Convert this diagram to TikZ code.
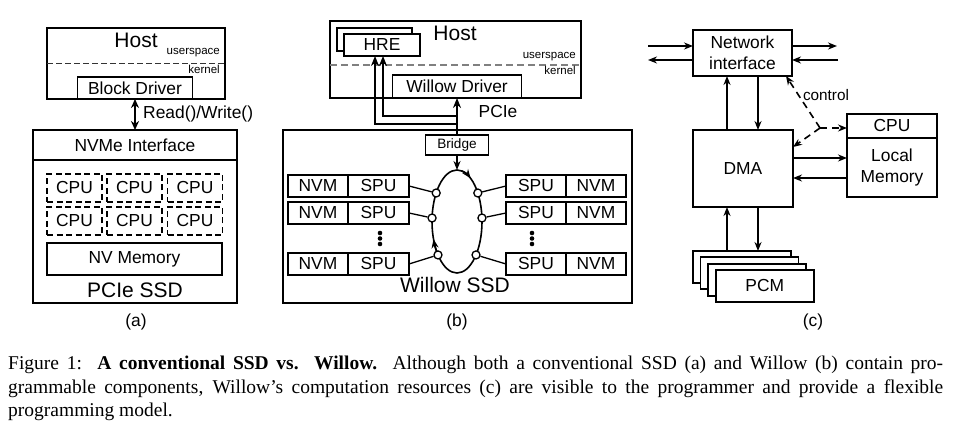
\documentclass[tikz,border=0pt]{standalone}
\usepackage{fontspec}
\setmainfont{Liberation Sans}
\newfontfamily\capfont{Liberation Serif}
\usetikzlibrary{arrows.meta,shapes.geometric}

\begin{document}
\begin{tikzpicture}[x=1pt, y=-1pt,
  box/.style={draw, line width=1.7pt, inner sep=0pt, outer sep=0pt, fill=white},
  cpubox/.style={box, line width=1.5pt, dash pattern=on 6pt off 3.5pt, minimum width=55pt, minimum height=28pt},
  lbl/.style={inner sep=0pt, font=\fontsize{17.4pt}{21pt}\selectfont},
  titlelbl/.style={inner sep=0pt, font=\fontsize{21pt}{24pt}\selectfont},
  smalllbl/.style={inner sep=0pt, font=\fontsize{11.5pt}{13pt}\selectfont},
  arr/.style={line width=1.6pt, -{Stealth[length=9pt, width=7pt]}},
  thickarr/.style={line width=2.3pt, -{Stealth[length=10pt, width=8pt]}},
  ctrlarr/.style={line width=1.6pt, dash pattern=on 7pt off 5pt, -{Stealth[length=9pt, width=7pt]}},
  port/.style={circle, draw, fill=white, line width=1.3pt, minimum size=8pt, inner sep=0pt},
  ]
\useasboundingbox (0,0) rectangle (965,427);

% (a)
\node[box, minimum width=178pt, minimum height=71pt] (hostA) at (136,63.5) {};
\node[titlelbl] (hostAtxt) at (136,40) {Host};
\draw[black!80, line width=1.2pt, dash pattern=on 5.5pt off 3.5pt] (hostA.west) -- (hostA.east);
\node[smalllbl, anchor=east] (usrA) at (220,53) {userspace};
\node[smalllbl, anchor=east] (kerA) at (220,69) {kernel};
\node[box, lbl, minimum width=115pt, minimum height=22pt] (blockDrv) at (135,88) {Block Driver};
\node[box, minimum width=204pt, minimum height=173pt] (ssdA) at (135,216.5) {};
\node[box, lbl, minimum width=204pt, minimum height=30pt] (nvmeA) at (135,145) {NVMe Interface};
\foreach \c/\x in {1/74.5,2/134.5,3/195} {
  \node[cpubox, lbl] (cpuU\c) at (\x,188) {CPU};
  \node[cpubox, lbl] (cpuD\c) at (\x,221) {CPU};
}
\node[box, lbl, minimum width=175pt, minimum height=32pt] (nvMem) at (134.5,259) {NV Memory};
\node[titlelbl] (ssdAtxt) at (135,290) {PCIe SSD};
\draw[line width=2pt, {Stealth[length=9pt, width=8pt]}-{Stealth[length=9pt, width=8pt]}] (blockDrv.south) -- (ssdA.north);
\node[lbl, anchor=west] (rwTxt) at (143,114) {Read()/Write()};
\node[lbl] (capA) at (136,322) {(a)};

% (b)
\node[box, minimum width=251pt, minimum height=77pt] (hostB) at (455.5,59.5) {};
\node[titlelbl] (hostBtxt) at (455,33) {Host};
\draw[gray, line width=1.3pt, dash pattern=on 7pt off 4pt] (hostB.west |- 0,65) -- (hostB.east |- 0,65);
\node[smalllbl, anchor=east] (usrB) at (576,57) {userspace};
\node[smalllbl, anchor=east] (kerB) at (576,70) {kernel};
\node[box, minimum width=75pt, minimum height=23pt] (hreBack) at (374.5,39.5) {};
\node[box, lbl, minimum width=76pt, minimum height=22pt] (hreFront) at (382,45) {HRE};
\node[box, lbl, minimum width=129pt, minimum height=23pt] (willowDrv) at (457,86.5) {Willow Driver};
\node[lbl] (pcieTxt) at (498,112) {PCIe};
\node[box, minimum width=349pt, minimum height=173pt] (ssdB) at (457.5,216.5) {};
\node[box, font=\fontsize{13.6pt}{15pt}\selectfont, minimum width=63pt, minimum height=20pt] (bridge) at (457,145) {Bridge};
\draw[thickarr] (bridge.north) -- (willowDrv.south);
\draw[thickarr] (bridge.north) -- ++(0,-11) -| ([xshift=-7pt]hreFront.south);
\draw[thickarr] (bridge.north) -- ++(0,-19) -| ([xshift=1pt]hreFront.south);

\node[draw, ellipse, line width=1.6pt, minimum width=50pt, minimum height=103pt, inner sep=0pt, outer sep=0pt] (ring) at (457,221.5) {};
\draw[arr] (bridge.south) -- (ring.north);
\draw[arr] ([shift={(-80:25 and 51.5)}]ring.center) arc[start angle=-80, end angle=-57, x radius=25, y radius=51.5];
\draw[arr] ([shift={(135:25 and 51.5)}]ring.center) arc[start angle=135, end angle=160, x radius=25, y radius=51.5];
\foreach \n/\a in {1/213.6, 2/183.9, 3/139.5} {
  \node[port] (pl\n) at ([shift={(\a:25 and 51.5)}]ring.center) {};
}
\foreach \n/\a in {1/-33.6, 2/-3.9, 3/40.5} {
  \node[port] (pr\n) at ([shift={(\a:25 and 51.5)}]ring.center) {};
}
\foreach \n/\y in {1/186, 2/213, 3/264} {
  \node[box, lbl, minimum width=60pt, minimum height=21.5pt] (nvmL\n) at (318,\y) {NVM};
  \node[box, lbl, minimum width=61pt, minimum height=21.5pt] (spuL\n) at (378.5,\y) {SPU};
  \node[box, lbl, minimum width=60pt, minimum height=21.5pt] (spuR\n) at (536,\y) {SPU};
  \node[box, lbl, minimum width=60pt, minimum height=21.5pt] (nvmR\n) at (596,\y) {NVM};
  \draw[line width=1.3pt] (spuL\n.east) -- (pl\n);
  \draw[line width=1.3pt] (pr\n) -- (spuR\n.west);
}
\foreach \y in {233,238.5,244} {
  \fill (380,\y) circle[radius=2.3];
  \fill (532,\y) circle[radius=2.3];
}
\node[titlelbl] (ssdBtxt) at (455,285) {Willow SSD};
\node[lbl] (capB) at (457,322) {(b)};

% (c)
\node[box, lbl, align=center, minimum width=99pt, minimum height=46pt] (netIf) at (742.5,53) {Network\\interface};
\node[box, lbl, minimum width=100pt, minimum height=77pt] (dma) at (743,168.5) {DMA};
\node[box, lbl, minimum width=90pt, minimum height=24pt] (cpuC) at (892,126) {CPU};
\node[box, lbl, align=center, minimum width=90pt, minimum height=59pt] (locMem) at (892,167.5) {Local\\Memory};
\foreach \i in {0,1,2} {
  \node[box, minimum width=98pt, minimum height=32pt] (pcm\i) at (742+7.6*\i,267+6.33*\i) {};
}
\node[box, lbl, minimum width=98pt, minimum height=32pt] (pcm3) at (764.8,286) {PCM};

\coordinate (inL) at (648,46);
\coordinate (outL) at (648,60);
\coordinate (outR) at (837,46);
\coordinate (inR) at (838,60);
\draw[arr] (inL) -- (inL -| netIf.west);
\draw[arr] (outL -| netIf.west) -- (outL);
\draw[arr] (outR -| netIf.east) -- (outR);
\draw[arr] (inR) -- (inR -| netIf.east);

\coordinate (dmaUp) at ([xshift=-16pt]dma.north);
\coordinate (dmaDn) at ([xshift=15pt]dma.north);
\draw[arr] (dmaUp) -- (dmaUp |- netIf.south);
\draw[arr] (dmaDn |- netIf.south) -- (dmaDn);
\coordinate (pcmUp) at ([xshift=-16pt]dma.south);
\coordinate (pcmDn) at ([xshift=15pt]dma.south);
\draw[arr] (pcmUp |- pcm0.north) -- (pcmUp);
\draw[arr] (pcmDn) -- (pcmDn |- pcm0.north);
\coordinate (dmaR1) at ([yshift=10.5pt]dma.east);
\coordinate (dmaR2) at ([yshift=-9.5pt]dma.east);
\draw[arr] (dmaR1) -- (dmaR1 -| locMem.west);
\draw[arr] (dmaR2 -| locMem.west) -- (dmaR2);

\coordinate (ctrlJ) at (820,128);
\draw[ctrlarr] (ctrlJ) -- ([xshift=-6pt]netIf.south east);
\draw[ctrlarr] (ctrlJ) -- ([yshift=-17pt]dma.north east);
\draw[ctrlarr] (ctrlJ) -- (ctrlJ -| cpuC.west);
\node[inner sep=0pt, font=\fontsize{15.3pt}{17pt}\selectfont] (ctrlTxt) at (826,95) {control};
\node[lbl] (capC) at (813,322) {(c)};

% caption
\node[anchor=north west, inner sep=0pt, align=left, font=\capfont\fontsize{19.5pt}{23.5pt}\selectfont] (caption) at (8,356)
  {\makebox[935pt][s]{Figure 1:\ \ \textbf{A conventional SSD vs.\ \ Willow.}\ \ Although both a conventional SSD (a) and Willow (b) contain pro-}\\
   \makebox[935pt][s]{grammable components, Willow’s computation resources (c) are visible to the programmer and provide a flexible}\\
   programming model.};
\end{tikzpicture}
\end{document}
